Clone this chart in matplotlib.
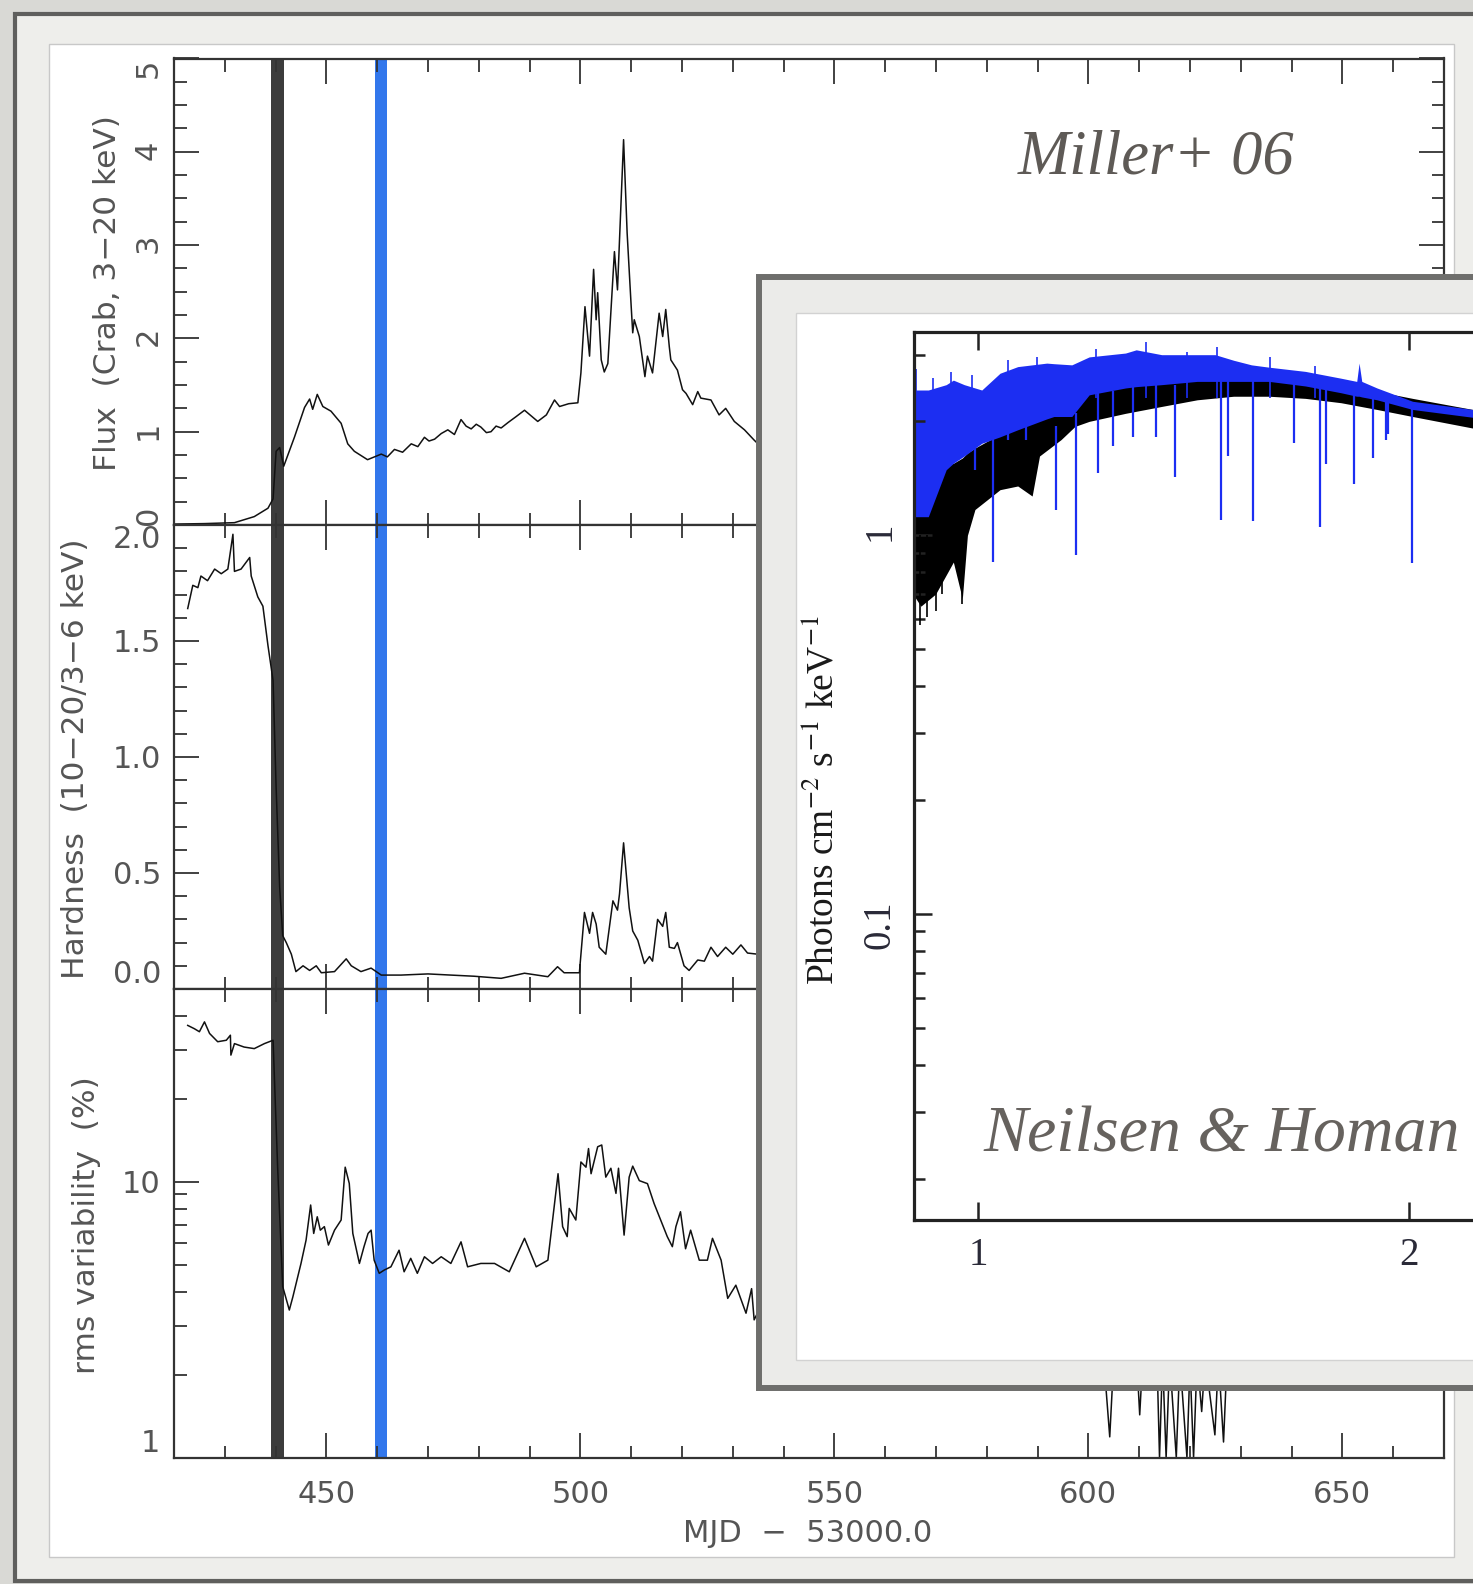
"""Composite slide: Miller+ 06 light curves with a Neilsen & Homan spectrum inset."""

import numpy as np
import matplotlib
matplotlib.use('Agg')
import matplotlib.pyplot as plt
from matplotlib.patches import Rectangle
from matplotlib.ticker import (MultipleLocator, FixedLocator, NullLocator,
                               LogLocator, NullFormatter)

plt.rcParams['mathtext.fontset'] = 'stix'

W, H = 1473, 1584

#########################################
### Data

# panel 1: flux (Crab, 3-20 keV) vs MJD-53000
flux_mjd = [420.1, 426.0, 431.9, 435.8, 438.5, 439.5, 440.1, 440.8, 441.6, 443.7,
            445.7, 446.7, 447.3, 448.2, 449.3, 450.9, 452.9, 454.2, 455.5, 458.1,
            460.8, 462.0, 463.4, 465.0, 466.7, 468.0, 469.3, 470.2, 471.3, 472.6,
            473.9, 475.2, 476.5, 477.5, 478.5, 479.5, 480.4, 481.5, 482.4, 483.4,
            484.4, 485.8, 487.3, 489.0, 490.3, 491.6, 493.3, 494.9, 495.9, 497.7,
            499.5, 500.1, 500.9, 501.8, 502.6, 503.1, 503.4, 504.1, 504.7, 505.4,
            506.7, 507.3, 508.5, 509.2, 510.0, 510.3, 510.6, 511.6, 512.7, 513.2,
            514.2, 515.5, 516.2, 516.8, 517.5, 517.8, 519.1, 520.1, 520.8, 522.1,
            523.1, 523.7, 525.7, 527.3, 528.6, 530.3, 532.3, 534.2, 535.9]
flux = [0.01, 0.015, 0.025, 0.09, 0.18, 0.28, 0.79, 0.83, 0.63, 0.94,
        1.26, 1.35, 1.24, 1.40, 1.27, 1.22, 1.09, 0.87, 0.79, 0.70,
        0.76, 0.73, 0.81, 0.78, 0.87, 0.84, 0.94, 0.90, 0.92, 0.98,
        1.02, 0.97, 1.13, 1.06, 1.03, 1.08, 1.05, 0.99, 1.00, 1.06,
        1.04, 1.10, 1.16, 1.23, 1.17, 1.11, 1.18, 1.34, 1.27, 1.30,
        1.31, 1.63, 2.34, 1.81, 2.74, 2.20, 2.49, 1.77, 1.64, 1.73,
        2.93, 2.52, 4.13, 3.13, 2.34, 2.06, 2.20, 2.02, 1.59, 1.81,
        1.63, 2.27, 2.02, 2.31, 1.91, 1.77, 1.66, 1.45, 1.41, 1.29,
        1.43, 1.36, 1.34, 1.18, 1.25, 1.11, 1.02, 0.91, 0.82]

# panel 2: hardness (10-20 / 3-6 keV)
hard_mjd = [422.7, 423.7, 424.7, 425.3, 426.6, 428.0, 429.3, 430.6, 431.6, 431.9,
            433.2, 434.9, 435.2, 436.5, 437.5, 438.5, 439.5, 440.1, 440.8, 441.4,
            442.1, 443.1, 444.0, 445.4, 446.7, 448.0, 449.0, 451.6, 453.9, 454.9,
            456.8, 458.8, 460.8, 464.7, 470.0, 474.5, 479.1, 484.4, 489.0, 493.6,
            495.5, 496.8, 499.8, 500.8, 501.8, 502.4, 503.1, 503.7, 505.0, 506.4,
            507.3, 507.7, 508.5, 509.6, 510.3, 511.3, 512.6, 513.6, 514.2, 515.2,
            516.2, 516.8, 517.5, 518.5, 519.1, 520.4, 521.4, 523.1, 524.4, 525.7,
            527.0, 528.6, 530.0, 531.6, 532.9, 534.9, 535.9]
hardness = [1.64, 1.74, 1.73, 1.78, 1.76, 1.81, 1.79, 1.81, 1.96, 1.80,
            1.81, 1.86, 1.78, 1.69, 1.65, 1.48, 1.33, 0.87, 0.44, 0.23,
            0.20, 0.15, 0.075, 0.10, 0.08, 0.10, 0.07, 0.075, 0.13, 0.10,
            0.075, 0.09, 0.06, 0.06, 0.065, 0.06, 0.055, 0.046, 0.068, 0.053,
            0.096, 0.07, 0.07, 0.33, 0.24, 0.33, 0.28, 0.18, 0.15, 0.38,
            0.34, 0.41, 0.63, 0.35, 0.25, 0.21, 0.11, 0.14, 0.12, 0.30,
            0.27, 0.33, 0.18, 0.175, 0.20, 0.10, 0.08, 0.125, 0.12, 0.18,
            0.14, 0.18, 0.15, 0.19, 0.155, 0.15, 0.125]

# panel 3: rms variability (%)
rms_mjd = [422.7, 424.0, 425.0, 426.0, 427.0, 428.6, 430.3, 431.1, 431.2, 431.9,
           433.8, 435.8, 437.8, 439.5, 440.4, 441.4, 442.7, 443.4, 445.0, 446.0,
           446.9, 447.5, 448.2, 448.8, 449.6, 450.4, 451.6, 452.9, 453.7, 454.5,
           455.2, 456.5, 457.4, 458.2, 458.8, 459.4, 460.4, 461.4, 462.7, 464.3,
           465.3, 466.6, 467.9, 469.3, 470.9, 472.6, 474.5, 476.5, 477.8, 480.4,
           483.1, 486.0, 489.0, 491.3, 493.6, 495.6, 496.5, 497.4, 497.8, 499.1,
           500.1, 501.1, 501.6, 502.1, 503.4, 504.2, 505.0, 506.0, 507.0, 507.5,
           508.6, 509.6, 510.3, 511.6, 513.2, 514.5, 515.8, 517.1, 518.1, 518.8,
           519.7, 520.7, 521.7, 523.4, 525.0, 526.0, 527.7, 529.0, 530.6, 532.6,
           533.7, 534.2, 535.5, 560.0,
           598.0, 603.0, 604.2, 605.0, 609.5, 610.1, 610.7, 613.5, 614.0, 614.6,
           615.3, 616.0, 617.3, 618.0, 619.4, 620.0, 620.7, 621.4, 622.3, 623.0,
           624.9, 625.6, 626.6, 627.3, 632.0]
rms = [36.9, 35.9, 35.0, 38.0, 34.5, 32.2, 32.6, 34.0, 28.8, 31.7,
       30.8, 30.4, 31.7, 32.6, 11.3, 4.17, 3.43, 3.83, 5.06, 6.15,
       8.24, 6.50, 7.47, 6.68, 6.88, 5.90, 6.68, 7.27, 11.3, 9.87,
       6.50, 5.06, 5.82, 6.50, 6.68, 5.20, 4.66, 4.79, 4.92, 5.65,
       4.72, 5.28, 4.66, 5.35, 5.06, 5.35, 5.06, 6.06, 4.92, 5.06,
       5.06, 4.72, 6.24, 4.92, 5.20, 10.7, 6.88, 6.33, 8.01, 7.27,
       11.8, 11.3, 13.2, 10.7, 13.4, 13.6, 10.4, 11.2, 9.08, 11.2,
       6.41, 10.4, 11.4, 10.1, 9.85, 8.35, 7.27, 6.33, 5.82, 6.88,
       7.79, 5.72, 6.68, 5.20, 5.20, 6.24, 5.20, 3.78, 4.22, 3.34,
       4.10, 3.16, 3.53, np.nan,
       2.3, 2.3, 1.19, 2.3, 2.3, 1.43, 2.3, 2.3, 1.0, 2.3,
       1.0, 2.3, 1.0, 2.3, 1.0, 2.2, 1.0, 2.3, 1.47, 2.3,
       1.21, 2.3, 1.14, 2.3, 2.3]

# marked observations (MJD-53000 ranges)
black_band = (439.1, 441.6)
blue_band = (459.5, 462.0)

# tick values
flux_ticks = [0, 1, 2, 3, 4, 5]
hard_ticks = [0.0, 0.5, 1.0, 1.5, 2.0]
rms_ticks = [1, 10]
energy_ticks = [1, 2]
photon_ticks = [0.1, 1]

# inset spectrum: energy (keV) and photon flux envelopes
black_e = [0.896, 0.912, 0.934, 0.961, 0.975, 0.983, 0.995, 1.036, 1.066, 1.091,
           1.104, 1.143, 1.169, 1.196, 1.268, 1.344, 1.423, 1.509, 1.598, 1.694,
           1.794, 1.901, 2.013, 2.218, 2.45]
black_lo = [0.72, 0.65, 0.70, 0.85, 0.68, 1.00, 1.17, 1.32, 1.35, 1.27,
            1.62, 1.79, 1.94, 2.00, 2.10, 2.19, 2.28, 2.33, 2.33, 2.30,
            2.24, 2.15, 2.06, 1.92, 1.88]
black_hi = [1.50, 1.50, 1.50, 1.55, 1.60, 1.65, 1.70, 1.85, 2.00, 2.10,
            2.15, 2.30, 2.40, 2.45, 2.55, 2.60, 2.62, 2.65, 2.65, 2.60,
            2.50, 2.40, 2.30, 2.15, 2.10]
black_spike_e = [0.903, 0.911, 0.921, 0.935, 0.944, 0.975]
black_spike_lo = [0.60, 0.58, 0.61, 0.63, 0.70, 0.66]

blue_e = [0.896, 0.923, 0.950, 0.961, 0.978, 1.006, 1.036, 1.066, 1.117, 1.130,
          1.163, 1.196, 1.268, 1.290, 1.344, 1.423, 1.465, 1.509, 1.553, 1.598,
          1.694, 1.794, 1.840, 1.847, 1.855, 1.901, 2.013, 2.218, 2.45]
blue_hi = [2.42, 2.42, 2.50, 2.57, 2.50, 2.42, 2.68, 2.79, 2.85, 2.84,
           2.82, 2.96, 3.03, 3.09, 3.00, 3.00, 3.00, 2.90, 2.82, 2.78,
           2.71, 2.60, 2.55, 2.85, 2.55, 2.45, 2.26, 2.15, 2.10]
blue_lo = [1.12, 1.12, 1.49, 1.55, 1.62, 1.75, 1.82, 1.90, 2.03, 2.06,
           2.06, 2.35, 2.45, 2.47, 2.50, 2.55, 2.55, 2.55, 2.55, 2.55,
           2.48, 2.38, 2.33, 2.33, 2.32, 2.28, 2.15, 2.05, 2.00]
# short spikes along the noisy blue top
blue_spike_e = [0.905, 0.93, 0.958, 0.99, 1.05, 1.10, 1.21, 1.31, 1.40, 1.47, 1.60, 1.72]
blue_spike_hi = [2.75, 2.6, 2.7, 2.65, 2.9, 2.95, 3.1, 3.25, 3.05, 3.15, 2.95, 2.8]

# blue absorption lines: energy, bottom, top
line_e = [0.995, 1.025, 1.05, 1.08, 1.133, 1.171, 1.214, 1.243, 1.283, 1.332,
          1.373, 1.478, 1.495, 1.556, 1.664, 1.735, 1.752, 1.833, 1.889, 1.928,
          1.935, 2.011]
line_lo = [1.49, 0.852, 1.79, 1.79, 1.168, 0.888, 1.46, 1.72, 1.82, 1.82,
           1.43, 1.10, 1.62, 1.09, 1.75, 1.055, 1.54, 1.37, 1.60, 1.79,
           1.85, 0.845]
line_hi = [1.8, 1.8, 1.9, 2.0, 1.95, 2.1, 2.4, 2.4, 2.5, 2.5,
           2.5, 2.6, 2.6, 2.6, 2.55, 2.5, 2.5, 2.4, 2.3, 2.3,
           2.3, 2.2]

#########################################
### Helpers in pixel coordinates

fig = plt.figure(figsize=(W / 100, H / 100), dpi=100)
fig.patch.set_facecolor('#d9d9d5')


def add_rect(x0, y0, x1, y1, z, **kw):
    r = Rectangle((x0 / W, 1 - y1 / H), (x1 - x0) / W, (y1 - y0) / H,
                  transform=fig.transFigure, zorder=z, **kw)
    fig.add_artist(r)


def px_axes(x0, y0, x1, y1):
    return fig.add_axes([x0 / W, 1 - y1 / H, (x1 - x0) / W, (y1 - y0) / H])


def px_text(x, y, s, **kw):
    return fig.text(x / W, 1 - y / H, s, **kw)


# slide frame
add_rect(15, 14, 1540, 1581, -3, facecolor='#eeeeeb', edgecolor='#5f5f5d', linewidth=3)
add_rect(49, 44, 1454, 1557, -2, facecolor='white', edgecolor='#c8c8c8', linewidth=1)

#########################################
### Light-curve panels

ax1 = px_axes(174, 58.5, 1444, 525)
ax2 = px_axes(174, 525, 1444, 989)
ax3 = px_axes(174, 989, 1444, 1457.7)

for ax in (ax1, ax2, ax3):
    ax.set_xlim(420, 670)
    ax.xaxis.set_major_locator(MultipleLocator(50))
    ax.xaxis.set_minor_locator(MultipleLocator(10))
    ax.tick_params(which='both', direction='in', top=True, right=True,
                   color='#333333', labelcolor='#555555', labelsize=22, width=1.3)
    ax.tick_params(which='major', length=18)
    ax.tick_params(which='minor', length=9)
    ax.tick_params(axis='y', pad=9)
    for s in ax.spines.values():
        s.set_linewidth(1.6)
        s.set_color('#333333')
    ax.axvspan(*black_band, color='#3c3c3c', lw=0, zorder=1)
    ax.axvspan(*blue_band, color='#3277ec', lw=0, zorder=1)

ax1.tick_params(labelbottom=False)
ax2.tick_params(labelbottom=False)
ax3.tick_params(axis='x', pad=16)

ax1.plot(flux_mjd, flux, color='#111111', lw=1.1, zorder=2)
ax1.set_ylim(0, 5)
ax1.yaxis.set_major_locator(FixedLocator(flux_ticks))
ax1.set_yticklabels([str(v) for v in flux_ticks])
ax1.yaxis.set_minor_locator(MultipleLocator(0.25))
ax1.tick_params(axis='y', labelrotation=90, pad=8)

ax2.plot(hard_mjd, hardness, color='#111111', lw=1.1, zorder=2)
ax2.set_ylim(0, 2.0)
ax2.yaxis.set_major_locator(FixedLocator(hard_ticks))
ax2.set_yticklabels(['%.1f' % v for v in hard_ticks])
ax2.yaxis.set_minor_locator(MultipleLocator(0.1))

ax3.plot(rms_mjd, rms, color='#111111', lw=1.1, zorder=2)
ax3.set_yscale('log')
ax3.set_ylim(1, 50)
ax3.yaxis.set_major_locator(FixedLocator(rms_ticks))
ax3.set_yticklabels([str(v) for v in rms_ticks])
ax3.yaxis.set_minor_locator(LogLocator(base=10, subs=range(2, 10)))
ax3.yaxis.set_minor_formatter(NullFormatter())
ax3.tick_params(axis='y', pad=10)

# end labels sit inside the panel
for ax in (ax1, ax2):
    labs = ax.get_yticklabels()
    labs[0].set_va('bottom')
    labs[-1].set_va('top')
ax3.get_yticklabels()[0].set_va('bottom')

lab_kw = dict(rotation=90, ha='center', va='center', color='#555555', fontsize=22.5)
px_text(107, 293, 'Flux  (Crab, 3\u221220 keV)', **lab_kw)
px_text(76, 759, 'Hardness  (10\u221220/3\u22126 keV)', **lab_kw)
px_text(87, 1225, 'rms variability  (%)', **lab_kw)
px_text(808, 1533, 'MJD  \u2212  53000.0', ha='center', va='center',
        color='#555555', fontsize=22)

px_text(1018, 173, 'Miller+ 06', family='Liberation Serif', style='italic',
        fontsize=45, color='#5e5a56', ha='left', va='baseline', zorder=3)

#########################################
### Inset spectrum

add_rect(759, 277, 1600, 1388, 4, facecolor='#ebebe9', edgecolor='#6e6e6c', linewidth=4.3)
add_rect(796, 313, 1600, 1360, 5, facecolor='white', edgecolor='#d2d2d2', linewidth=1)

axi = px_axes(914, 331.7, 1522, 1220)
axi.set_zorder(6)
axi.set_xscale('log')
axi.set_yscale('log')
axi.set_xlim(0.902, 2.401)
axi.set_ylim(0.01555, 3.45)

blue = '#1c2ef2'
axi.fill_between(black_e, black_lo, black_hi, color='black', lw=0)
axi.vlines(black_spike_e, black_spike_lo, 1.0, color='black', lw=1.2)
axi.fill_between(blue_e, blue_lo, blue_hi, color=blue, lw=0)
axi.vlines(blue_spike_e, 2.3, blue_spike_hi, color=blue, lw=1.2)
axi.vlines(line_e, line_lo, line_hi, color=blue, lw=1.6)

axi.xaxis.set_major_locator(FixedLocator(energy_ticks))
axi.xaxis.set_minor_locator(NullLocator())
axi.set_xticklabels([str(v) for v in energy_ticks])
axi.yaxis.set_major_locator(FixedLocator(photon_ticks))
axi.set_yticklabels([str(v) for v in photon_ticks])
axi.yaxis.set_minor_locator(LogLocator(base=10, subs=range(2, 10)))
axi.yaxis.set_minor_formatter(NullFormatter())
axi.tick_params(which='both', direction='in', top=True, right=False,
                color='#222222', labelcolor='#2a2a38', labelsize=28, width=1.8)
axi.tick_params(which='major', length=13)
axi.tick_params(which='minor', length=8)
axi.tick_params(axis='x', pad=12)
axi.tick_params(axis='y', pad=11, labelrotation=90)
for lab in axi.get_xticklabels() + axi.get_yticklabels():
    lab.set_fontfamily('Liberation Serif')
for s in axi.spines.values():
    s.set_linewidth(2.3)
    s.set_color('#222222')
axi.spines['right'].set_visible(False)

px_text(823, 800, 'Photons cm$^{-2}$ s$^{-1}$ keV$^{-1}$', rotation=90,
        ha='center', va='center', family='Liberation Serif', fontsize=27,
        color='#1a1a1a', zorder=7)
px_text(983, 1152, 'Neilsen & Homan', family='Liberation Serif', style='italic',
        fontsize=47.5, color='#66625e', ha='left', va='baseline', zorder=7)

fig.savefig('out.png', dpi=100, facecolor=fig.get_facecolor())
